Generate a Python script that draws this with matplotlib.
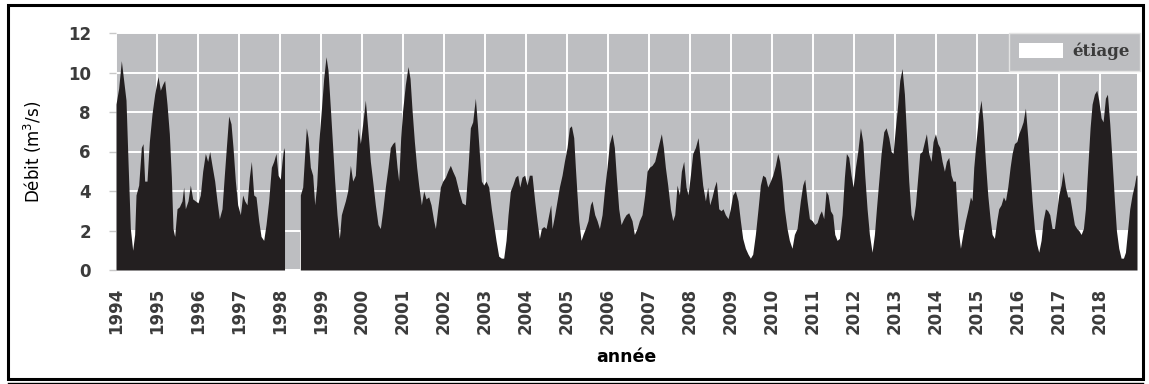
import matplotlib
matplotlib.use("Agg")
import matplotlib.pyplot as plt
import numpy as np
from matplotlib.patches import Patch, Rectangle

# Débit (années décimales, m3/s); lacune début 1998
annee_1994_1998 = [
    1994.000, 1994.065, 1994.130, 1994.187, 1994.244, 1994.293, 1994.350, 1994.407,
    1994.455, 1994.488, 1994.553, 1994.618, 1994.659, 1994.699, 1994.756, 1994.813,
    1994.878, 1994.943, 1995.024, 1995.081, 1995.138, 1995.187, 1995.244, 1995.301,
    1995.350, 1995.390, 1995.431, 1995.488, 1995.545, 1995.610, 1995.650, 1995.691,
    1995.756, 1995.813, 1995.870, 1995.935, 1996.000, 1996.057, 1996.114, 1996.179,
    1996.236, 1996.285, 1996.341, 1996.407, 1996.463, 1996.520, 1996.585, 1996.642,
    1996.691, 1996.748, 1996.805, 1996.854, 1996.911, 1996.967, 1997.033, 1997.089,
    1997.138, 1997.195, 1997.252, 1997.301, 1997.358, 1997.415, 1997.480, 1997.537,
    1997.602, 1997.659, 1997.724, 1997.789, 1997.846, 1997.902, 1997.951, 1998.008,
    1998.049, 1998.089, 1998.110,
]
debit_1994_1998 = [
    8.4, 9.2, 10.6, 9.6, 8.6, 5.5, 2.1, 1.0,
    1.8, 3.8, 4.3, 6.2, 6.4, 4.5, 4.5, 6.5,
    7.9, 8.9, 9.8, 9.1, 9.4, 9.6, 8.4, 6.9,
    4.7, 2.1, 1.7, 3.1, 3.2, 3.5, 4.2, 3.1,
    3.5, 4.3, 3.6, 3.5, 3.4, 3.8, 5.0, 5.9,
    5.5, 6.0, 5.3, 4.5, 3.5, 2.6, 3.1, 4.8,
    6.2, 7.8, 7.4, 6.2, 4.5, 3.3, 2.8, 3.8,
    3.5, 3.3, 4.7, 5.5, 3.8, 3.7, 2.5, 1.7,
    1.5, 2.3, 3.5, 5.2, 5.5, 5.9, 4.8, 4.6,
    5.5, 6.2, 6.0,
]

annee_1998_2002 = [
    1998.496, 1998.553, 1998.602, 1998.642, 1998.683, 1998.740, 1998.797, 1998.846,
    1998.894, 1998.943, 1999.008, 1999.065, 1999.122, 1999.171, 1999.228, 1999.285,
    1999.333, 1999.390, 1999.447, 1999.496, 1999.537, 1999.594, 1999.650, 1999.716,
    1999.772, 1999.837, 1999.903, 1999.959, 2000.016, 2000.081, 2000.138, 2000.203,
    2000.260, 2000.325, 2000.390, 2000.447, 2000.504, 2000.569, 2000.634, 2000.691,
    2000.748, 2000.797, 2000.854, 2000.894, 2000.943, 2000.992, 2001.057, 2001.122,
    2001.171, 2001.220, 2001.277, 2001.333, 2001.382, 2001.447, 2001.504, 2001.561,
    2001.626, 2001.683, 2001.748, 2001.789, 2001.846, 2001.911, 2001.968, 2002.033,
    2002.089, 2002.154, 2002.211,
]
debit_1998_2002 = [
    3.8, 4.2, 5.9, 7.2, 6.7, 5.2, 4.8, 3.3,
    4.3, 6.4, 8.1, 9.7, 10.8, 10.1, 8.2, 6.2,
    4.5, 2.8, 1.6, 2.8, 3.1, 3.5, 4.0, 5.3,
    4.5, 4.8, 7.2, 6.4, 7.4, 8.6, 7.2, 5.5,
    4.5, 3.3, 2.3, 2.1, 3.0, 4.2, 5.2, 6.2,
    6.4, 6.5, 5.2, 4.5, 6.7, 8.1, 9.4, 10.3,
    9.7, 8.1, 6.5, 5.2, 4.3, 3.3, 4.0, 3.6,
    3.7, 3.3, 2.5, 2.1, 3.1, 4.2, 4.5, 4.7,
    5.0, 5.3, 5.0,
]

annee_2002_2006 = [
    2002.276, 2002.358, 2002.439, 2002.520, 2002.585, 2002.642, 2002.699, 2002.764,
    2002.813, 2002.862, 2002.911, 2002.967, 2003.024, 2003.089, 2003.154, 2003.211,
    2003.268, 2003.333, 2003.398, 2003.455, 2003.512, 2003.561, 2003.618, 2003.675,
    2003.740, 2003.797, 2003.846, 2003.902, 2003.967, 2004.024, 2004.081, 2004.146,
    2004.211, 2004.268, 2004.325, 2004.374, 2004.431, 2004.488, 2004.553, 2004.602,
    2004.634, 2004.699, 2004.756, 2004.813, 2004.878, 2004.935, 2005.000, 2005.057,
    2005.106, 2005.163, 2005.203, 2005.244, 2005.285, 2005.341, 2005.390, 2005.447,
    2005.512, 2005.569, 2005.610, 2005.675, 2005.732, 2005.789, 2005.854, 2005.919,
    2005.976, 2006.033, 2006.098, 2006.154, 2006.203, 2006.260, 2006.317, 2006.382,
    2006.439, 2006.504, 2006.585,
]
debit_2002_2006 = [
    4.7, 4.0, 3.4, 3.3, 5.2, 7.2, 7.5, 8.7,
    7.4, 5.9, 4.5, 4.3, 4.5, 4.2, 3.1, 2.3,
    1.5, 0.7, 0.6, 0.6, 1.5, 2.8, 4.0, 4.3,
    4.7, 4.8, 4.2, 4.7, 4.8, 4.3, 4.8, 4.8,
    3.5, 2.5, 1.6, 2.1, 2.2, 2.1, 2.8, 3.3,
    2.1, 2.8, 3.5, 4.2, 4.8, 5.5, 6.2, 7.2,
    7.3, 6.7, 5.2, 3.8, 2.5, 1.5, 1.8, 2.1,
    2.5, 3.3, 3.5, 2.8, 2.5, 2.1, 2.8, 4.2,
    5.2, 6.4, 6.9, 6.2, 4.7, 3.1, 2.3, 2.6,
    2.8, 2.9, 2.5,
]

annee_2006_2010 = [
    2006.642, 2006.707, 2006.764, 2006.829, 2006.894, 2006.951, 2007.008, 2007.073,
    2007.138, 2007.195, 2007.252, 2007.300, 2007.349, 2007.398, 2007.455, 2007.520,
    2007.577, 2007.626, 2007.683, 2007.740, 2007.788, 2007.845, 2007.902, 2007.951,
    2008.008, 2008.065, 2008.130, 2008.195, 2008.252, 2008.308, 2008.374, 2008.430,
    2008.479, 2008.536, 2008.593, 2008.642, 2008.699, 2008.756, 2008.804, 2008.861,
    2008.926, 2008.983, 2009.040, 2009.105, 2009.170, 2009.227, 2009.284, 2009.349,
    2009.414, 2009.471, 2009.528, 2009.593, 2009.658, 2009.715, 2009.772, 2009.837,
    2009.894, 2009.959, 2010.016, 2010.081, 2010.138, 2010.187, 2010.243, 2010.300,
    2010.365, 2010.422, 2010.487, 2010.544, 2010.609, 2010.690, 2010.748,
]
debit_2006_2010 = [
    1.8, 2.1, 2.5, 2.8, 3.8, 5.0, 5.2, 5.3,
    5.5, 6.0, 6.5, 6.9, 6.2, 5.2, 4.3, 3.1,
    2.5, 2.8, 4.3, 3.8, 5.0, 5.5, 4.2, 3.8,
    4.8, 5.9, 6.2, 6.7, 5.5, 4.3, 3.5, 4.2,
    3.3, 3.7, 4.2, 4.5, 3.1, 3.0, 3.1, 2.8,
    2.6, 3.1, 3.8, 4.0, 3.5, 2.5, 1.6, 1.1,
    0.8, 0.6, 0.8, 1.8, 3.1, 4.3, 4.8, 4.7,
    4.2, 4.5, 4.8, 5.3, 5.9, 5.5, 4.5, 3.1,
    2.1, 1.5, 1.1, 1.8, 2.1, 3.5, 4.3,
]

annee_2010_2014 = [
    2010.797, 2010.854, 2010.911, 2010.976, 2011.041, 2011.098, 2011.155, 2011.203,
    2011.260, 2011.317, 2011.366, 2011.423, 2011.480, 2011.529, 2011.586, 2011.642,
    2011.708, 2011.764, 2011.813, 2011.870, 2011.927, 2011.976, 2012.033, 2012.090,
    2012.155, 2012.212, 2012.260, 2012.317, 2012.374, 2012.439, 2012.496, 2012.545,
    2012.602, 2012.659, 2012.724, 2012.781, 2012.846, 2012.903, 2012.951, 2013.008,
    2013.065, 2013.114, 2013.171, 2013.228, 2013.277, 2013.333, 2013.390, 2013.439,
    2013.496, 2013.553, 2013.602, 2013.659, 2013.716, 2013.764, 2013.821, 2013.878,
    2013.927, 2013.984, 2014.041, 2014.090, 2014.147, 2014.203, 2014.252, 2014.309,
    2014.366, 2014.415, 2014.472, 2014.512, 2014.553, 2014.594, 2014.650, 2014.715,
    2014.781, 2014.838, 2014.878,
]
debit_2010_2014 = [
    4.6, 3.5, 2.6, 2.5, 2.3, 2.4, 2.8, 3.0,
    2.6, 4.0, 3.8, 3.0, 2.8, 1.8, 1.5, 1.6,
    2.8, 4.7, 5.9, 5.7, 4.8, 4.2, 5.2, 6.0,
    7.2, 6.5, 4.8, 3.1, 1.8, 0.9, 1.8, 3.1,
    4.5, 5.9, 7.0, 7.2, 6.7, 6.0, 5.9, 7.2,
    8.4, 9.6, 10.2, 8.9, 6.9, 4.5, 2.8, 2.5,
    3.3, 4.7, 5.9, 6.0, 6.5, 6.9, 5.9, 5.5,
    6.5, 6.9, 6.4, 6.2, 5.5, 5.0, 5.5, 5.7,
    4.8, 4.5, 4.5, 3.1, 1.8, 1.1, 1.8, 2.5,
    3.1, 3.7, 3.5,
]

annee_2014_2018 = [
    2014.919, 2014.975, 2015.041, 2015.097, 2015.146, 2015.203, 2015.260, 2015.317,
    2015.366, 2015.423, 2015.480, 2015.528, 2015.585, 2015.642, 2015.691, 2015.748,
    2015.805, 2015.854, 2015.910, 2015.967, 2016.016, 2016.073, 2016.122, 2016.179,
    2016.236, 2016.284, 2016.341, 2016.398, 2016.455, 2016.504, 2016.561, 2016.610,
    2016.667, 2016.723, 2016.772, 2016.829, 2016.886, 2016.943, 2016.992, 2017.049,
    2017.097, 2017.154, 2017.211, 2017.260, 2017.317, 2017.374, 2017.431, 2017.480,
    2017.537, 2017.593, 2017.642, 2017.699, 2017.756, 2017.805, 2017.862, 2017.919,
    2017.967, 2018.024, 2018.073, 2018.130, 2018.179, 2018.236, 2018.293, 2018.350,
    2018.398, 2018.455, 2018.512, 2018.569, 2018.618, 2018.675, 2018.723, 2018.780,
    2018.837, 2018.878, 2018.900,
]
debit_2014_2018 = [
    5.2, 6.5, 7.9, 8.6, 7.5, 5.5, 3.8, 2.6,
    1.8, 1.6, 2.5, 3.1, 3.3, 3.7, 3.5, 4.2,
    5.2, 5.9, 6.4, 6.5, 6.9, 7.2, 7.5, 8.2,
    6.7, 5.2, 3.5, 2.1, 1.3, 0.9, 1.5, 2.5,
    3.1, 3.0, 2.8, 2.1, 2.1, 3.0, 3.8, 4.3,
    5.0, 4.2, 3.7, 3.7, 3.0, 2.3, 2.1, 2.0,
    1.8, 2.1, 3.1, 5.2, 7.2, 8.4, 8.9, 9.1,
    8.6, 7.7, 7.5, 8.7, 8.9, 7.4, 5.5, 3.5,
    2.0, 1.1, 0.6, 0.6, 0.9, 2.1, 3.1, 3.8,
    4.3, 4.8, 4.8,
]

seuil_etiage = 2.0
annees = list(range(1994, 2019))
graduations_debit = [0, 2, 4, 6, 8, 10, 12]

FOND = "#bdbec1"
NOIR = "#231f20"
TEXTE = "#3b3b3b"

segments = [
    (np.array(annee_1994_1998), np.array(debit_1994_1998)),
    (np.array(annee_1998_2002 + annee_2002_2006 + annee_2006_2010
              + annee_2010_2014 + annee_2014_2018),
     np.array(debit_1998_2002 + debit_2002_2006 + debit_2006_2010
              + debit_2010_2014 + debit_2014_2018)),
]

W, H = 1149, 384
fig = plt.figure(figsize=(W / 100, H / 100), dpi=100)
ax = fig.add_axes([116 / W, 114 / H, (1137 - 116) / W, (351 - 114) / H])
ax.set_facecolor(FOND)

for t, q in segments:
    # bande d'étiage (blanche) sous le débit, seulement où il y a des mesures
    ax.fill_between(t, 0, seuil_etiage, color="white", lw=0, zorder=1)
    ax.fill_between(t, 0, q, color=NOIR, lw=0, zorder=2)

ax.set_xlim(1994, 2018.9)
ax.set_ylim(0, 12)
ax.set_xticks(annees)
ax.set_xticklabels([str(a) for a in annees], rotation=90)
ax.set_yticks(graduations_debit)

ax.grid(True, color="white", lw=1.4)
ax.set_axisbelow(True)
for s in ax.spines.values():
    s.set_visible(False)

ax.tick_params(axis="x", length=0, pad=13, labelsize=12, labelcolor=TEXTE)
ax.tick_params(axis="y", length=5, color="#c8c8c8", width=1, pad=13,
               labelsize=12, labelcolor=TEXTE)
for lab in ax.get_xticklabels() + ax.get_yticklabels():
    lab.set_fontweight("bold")

ax.set_ylabel("Débit (m$^3$/s)", fontsize=12, labelpad=17, color="black")
fig.text(0.5 * (116 + 1137) / W, 1 - 357 / H, "année", ha="center", va="center",
         fontsize=12.5, fontweight="bold", color="black")

leg = ax.legend(
    handles=[Patch(facecolor="white", edgecolor="none", label="étiage")],
    loc="upper right", bbox_to_anchor=(1.003, 1.0), borderaxespad=0,
    frameon=True, fancybox=False, facecolor=FOND, edgecolor="#e4e4e4",
    framealpha=1, handlelength=2.6, handleheight=1.0, handletextpad=0.6,
    borderpad=0.6, prop=dict(family="DejaVu Serif", weight="bold", size=12),
    labelcolor=TEXTE,
)
leg.get_frame().set_linewidth(1.0)

# cadre noir autour de la figure
fig.add_artist(Rectangle((8 / W, 5 / H), (1143 - 8) / W, (379 - 5) / H,
                         transform=fig.transFigure, fill=False,
                         edgecolor="black", lw=2.2))
fig.add_artist(plt.Line2D([8 / W, 1143 / W], [1.5 / H, 1.5 / H],
                          transform=fig.transFigure, color="black", lw=1.0))

fig.savefig("out.png", dpi=100)
